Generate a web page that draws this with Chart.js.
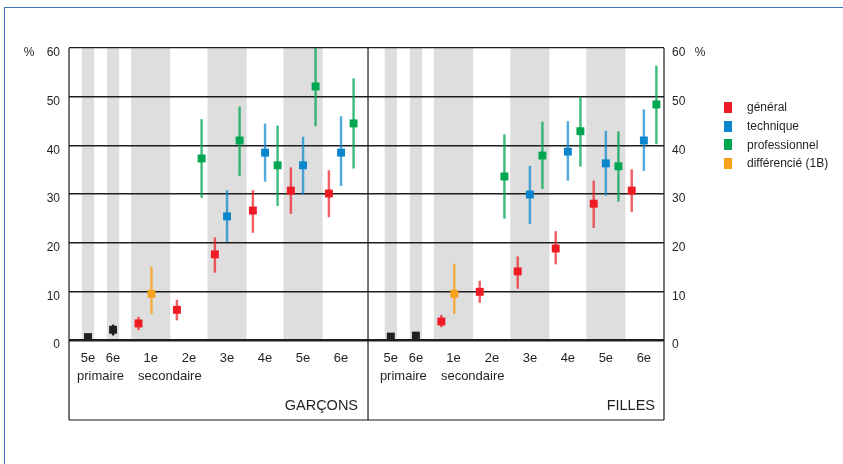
<!DOCTYPE html>
<html>
<head>
<meta charset="utf-8">
<script src="https://cdn.jsdelivr.net/npm/chart.js@4.4.1/dist/chart.umd.min.js"></script>
<style>
  body { margin: 0; background: #fff; font-family: "Liberation Sans", Arial, sans-serif; }
  #wrap { position: relative; width: 843px; height: 464px; overflow: hidden; }
  #frame { position: absolute; left: 4px; top: 7px; width: 900px; height: 500px;
           border-top: 1.5px solid #3d72b4; border-left: 1.5px solid #3d72b4; }
  canvas { position: absolute; left: 0; top: 0; }
  #legend { position: absolute; left: 724px; top: 98px; font-size: 12px; color: #231f20; }
  .item { height: 18.7px; display: flex; align-items: center; }
  .sw { width: 8px; height: 11px; margin-right: 15px; }
</style>
</head>
<body>
<div id="wrap">
  <div id="frame"></div>
  <canvas id="chart" width="843" height="464"></canvas>
  <div id="legend"></div>
</div>
<script>
// categories (years), same for both panels
const years = ['5e', '6e', '1e', '2e', '3e', '4e', '5e', '6e'];
const yearPos = [0.5, 1.16, 2.15, 3.16, 4.16, 5.16, 6.16, 7.16];
const shadedYears = [true, true, true, false, true, false, true, false];
const groupLabels = ['primaire', 'secondaire'];
const groupFirst = [0, 2];
const groupLast = [1, 3];
const panelNames = ['GARÇONS', 'FILLES'];
const panelShift = [0, 7.97];
const dividerPos = 7.87;
const xMax = 15.66;
const yTicks = [0, 10, 20, 30, 40, 50, 60];

// garçons
const garconsPrimaire = [0.6, 2.1, null, null, null, null, null, null];
const garconsPrimaireLow = [0.3, 1.0, null, null, null, null, null, null];
const garconsPrimaireHigh = [1.0, 3.1, null, null, null, null, null, null];
const garconsGeneral = [null, null, 3.4, 6.2, 17.6, 26.6, 30.7, 30.1];
const garconsGeneralLow = [null, null, 2.1, 4.1, 13.9, 22.1, 26.0, 25.3];
const garconsGeneralHigh = [null, null, 4.7, 8.2, 21.0, 30.7, 35.4, 34.8];
const garconsTechnique = [null, null, null, null, 25.4, 38.5, 35.9, 38.5];
const garconsTechniqueLow = [null, null, null, null, 20.2, 32.6, 29.9, 31.7];
const garconsTechniqueHigh = [null, null, null, null, 30.7, 44.4, 41.7, 45.9];
const garconsPro = [null, null, null, 37.3, 41.0, 35.9, 52.1, 44.5];
const garconsProLow = [null, null, null, 29.3, 33.8, 27.6, 44.0, 35.3];
const garconsProHigh = [null, null, null, 45.3, 47.9, 44.0, 60.0, 53.7];
const garconsDiff = [null, null, 9.5, null, null, null, null, null];
const garconsDiffLow = [null, null, 5.4, null, null, null, null, null];
const garconsDiffHigh = [null, null, 15.0, null, null, null, null, null];

// filles
const fillesPrimaire = [0.7, 0.9, null, null, null, null, null, null];
const fillesPrimaireLow = [0.3, 0.4, null, null, null, null, null, null];
const fillesPrimaireHigh = [1.1, 1.5, null, null, null, null, null, null];
const fillesGeneral = [null, null, 3.8, 9.9, 14.1, 18.8, 28.0, 30.7];
const fillesGeneralLow = [null, null, 2.7, 7.7, 10.6, 15.6, 23.1, 26.4];
const fillesGeneralHigh = [null, null, 5.1, 12.1, 17.1, 22.3, 32.7, 35.0];
const fillesTechnique = [null, null, null, null, 29.9, 38.7, 36.3, 41.0];
const fillesTechniqueLow = [null, null, null, null, 23.9, 32.8, 29.7, 34.8];
const fillesTechniqueHigh = [null, null, null, null, 35.7, 44.9, 42.9, 47.3];
const fillesPro = [null, null, null, 33.6, 37.9, 42.9, 35.7, 48.4];
const fillesProLow = [null, null, null, 25.0, 31.1, 35.7, 28.5, 40.3];
const fillesProHigh = [null, null, null, 42.2, 44.8, 49.9, 42.8, 56.3];
const fillesDiff = [null, null, 9.5, null, null, null, null, null];
const fillesDiffLow = [null, null, 5.4, null, null, null, null, null];
const fillesDiffHigh = [null, null, 15.6, null, null, null, null, null];

const series = [
  { name: null, color: '#231f20', bar: '#231f20', offset: 0,
    values: [garconsPrimaire, fillesPrimaire], low: [garconsPrimaireLow, fillesPrimaireLow], high: [garconsPrimaireHigh, fillesPrimaireHigh] },
  { name: 'général', color: '#ed1c24', bar: 'rgba(237,28,36,0.7)', offset: -0.32,
    values: [garconsGeneral, fillesGeneral], low: [garconsGeneralLow, fillesGeneralLow], high: [garconsGeneralHigh, fillesGeneralHigh] },
  { name: 'technique', color: '#0a86cd', bar: 'rgba(10,134,205,0.7)', offset: 0,
    values: [garconsTechnique, fillesTechnique], low: [garconsTechniqueLow, fillesTechniqueLow], high: [garconsTechniqueHigh, fillesTechniqueHigh] },
  { name: 'professionnel', color: '#00a651', bar: 'rgba(0,166,81,0.75)', offset: 0.33,
    values: [garconsPro, fillesPro], low: [garconsProLow, fillesProLow], high: [garconsProHigh, fillesProHigh] },
  { name: 'différencié (1B)', color: '#f7a11d', bar: 'rgba(247,161,29,0.8)', offset: 0.02,
    values: [garconsDiff, fillesDiff], low: [garconsDiffLow, fillesDiffLow], high: [garconsDiffHigh, fillesDiffHigh] },
];

const datasets = [];
series.forEach(s => {
  panelNames.forEach((p, k) => {
    const pts = [], bars = [];
    s.values[k].forEach((v, i) => {
      if (v === null) return;
      const x = yearPos[i] + panelShift[k] + s.offset;
      pts.push({x: x, y: v});
      bars.push({x: x, y: [s.low[k][i], s.high[k][i]]});
    });
    datasets.push({type: 'bar', data: bars, backgroundColor: s.bar, barThickness: 1.8, grouped: false, order: 1});
    datasets.push({type: 'scatter', data: pts, pointStyle: 'rect', pointRadius: 5.6,
                   backgroundColor: s.color, borderWidth: 0, order: 0});
  });
});

const ink = '#231f20';
const font = '"Liberation Sans", Arial, sans-serif';

const panelPlugin = {
  id: 'panels',
  beforeDraw(chart) {
    const {ctx, chartArea: a, scales: {x}} = chart;
    ctx.save();
    ctx.fillStyle = '#dedede';
    panelShift.forEach(shift => {
      yearPos.forEach((pos, i) => {
        if (!shadedYears[i]) return;
        const w = i < 2 ? 0.32 : 1.03;
        const l = x.getPixelForValue(pos + shift - w / 2);
        const r = x.getPixelForValue(pos + shift + w / 2);
        ctx.fillRect(l, a.top, r - l, a.bottom - a.top);
      });
    });
    ctx.restore();
  },
  afterDraw(chart) {
    const {ctx, chartArea: a, scales: {x, y}} = chart;
    const boxBottom = a.bottom + 80;
    ctx.save();
    ctx.strokeStyle = '#1a1a1a';
    ctx.lineWidth = 1.2;
    const mid = x.getPixelForValue(dividerPos);
    [a.left, mid, a.right].forEach(px => {
      ctx.beginPath();
      ctx.moveTo(px, a.top);
      ctx.lineTo(px, boxBottom);
      ctx.stroke();
    });
    ctx.beginPath();
    ctx.moveTo(a.left, boxBottom);
    ctx.lineTo(a.right, boxBottom);
    ctx.stroke();

    ctx.fillStyle = ink;
    ctx.textBaseline = 'middle';
    ctx.textAlign = 'center';
    ctx.font = '13px ' + font;
    panelShift.forEach((shift, k) => {
      years.forEach((lab, i) => {
        ctx.fillText(lab, x.getPixelForValue(yearPos[i] + shift), a.bottom + 18);
      });
      groupLabels.forEach((lab, g) => {
        const c = (yearPos[groupFirst[g]] + yearPos[groupLast[g]]) / 2 + shift;
        ctx.fillText(lab, x.getPixelForValue(c), a.bottom + 36);
      });
    });
    ctx.textAlign = 'right';
    ctx.font = '14.5px ' + font;
    ctx.fillText(panelNames[0], mid - 10, a.bottom + 66);
    ctx.fillText(panelNames[1], a.right - 9, a.bottom + 66);

    ctx.font = '12px ' + font;
    ctx.textAlign = 'center';
    const top = y.getPixelForValue(60) + 5;
    ctx.fillText('%', a.left - 40, top);
    ctx.fillText('%', a.right + 36, top);
    ctx.restore();
  }
};

const tickFont = {family: font, size: 12};
new Chart(document.getElementById('chart'), {
  type: 'scatter',
  data: {datasets: datasets},
  options: {
    responsive: false,
    animation: false,
    events: [],
    layout: {padding: {left: 0, top: 48, right: 139, bottom: 124}},
    plugins: {legend: {display: false}, tooltip: {enabled: false}},
    scales: {
      x: {type: 'linear', min: 0, max: xMax, offset: false, display: false},
      y: {
        position: 'left', min: 0, max: 60,
        afterFit: s => { s.width = 69; },
        afterBuildTicks: s => { s.ticks = yTicks.map(v => ({value: v})); },
        ticks: {font: tickFont, color: ink, padding: 9, labelOffset: 5},
        grid: {color: '#1e1e1e', drawTicks: false,
               lineWidth: c => c.tick.value === 0 ? 2.6 : (c.tick.value === 60 ? 1.3 : 1.6)},
        border: {display: false}
      },
      y2: {
        position: 'right', min: 0, max: 60,
        afterFit: s => { s.width = 40; },
        afterBuildTicks: s => { s.ticks = yTicks.map(v => ({value: v})); },
        ticks: {font: tickFont, color: ink, padding: 8, labelOffset: 5},
        grid: {display: false, drawTicks: false},
        border: {display: false}
      }
    }
  },
  plugins: [panelPlugin]
});

const legend = document.getElementById('legend');
series.forEach(s => {
  if (!s.name) return;
  const row = document.createElement('div');
  row.className = 'item';
  row.innerHTML = '<span class="sw" style="background:' + s.color + '"></span><span>' + s.name + '</span>';
  legend.appendChild(row);
});
</script>
</body>
</html>
